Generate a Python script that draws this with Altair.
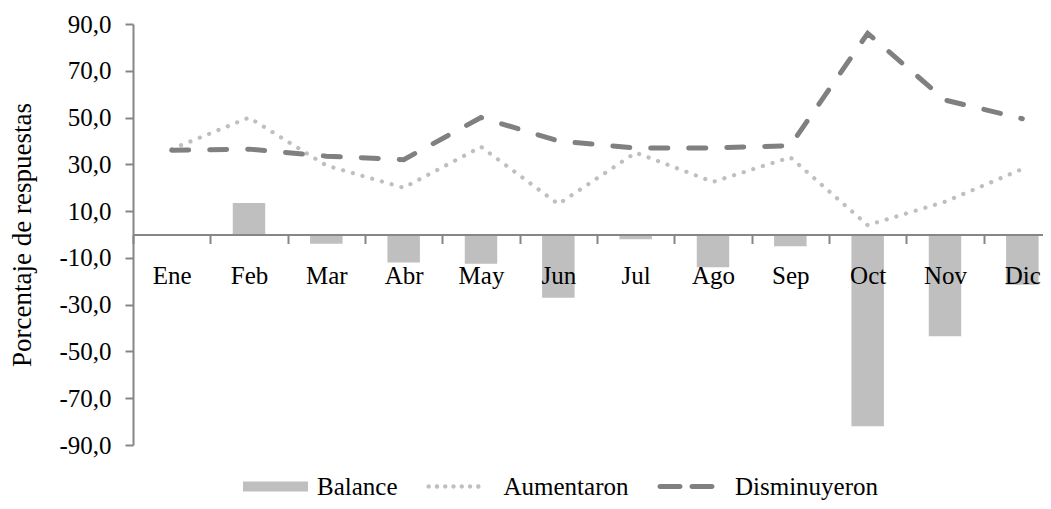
import altair as alt
import pandas as pd

meses = ["Ene", "Feb", "Mar", "Abr", "May", "Jun", "Jul", "Ago", "Sep", "Oct", "Nov", "Dic"]
balance = [0.0, 13.5, -4.0, -12.0, -12.5, -27.0, -2.0, -14.0, -5.0, -82.0, -43.5, -21.5]
aumentaron = [36.5, 50.0, 29.5, 20.0, 37.5, 13.0, 35.0, 22.5, 33.0, 4.0, 14.0, 28.0]
disminuyeron = [36.0, 36.5, 33.5, 32.0, 50.0, 40.0, 37.0, 37.0, 38.0, 86.0, 57.5, 49.5]
series = ["Balance", "Aumentaron", "Disminuyeron"]
y_ticks = [-90, -70, -50, -30, -10, 10, 30, 50, 70, 90]

rows = []
for nombre, valores in zip(series, [balance, aumentaron, disminuyeron]):
    for m, v in zip(meses, valores):
        rows.append({"mes": m, "serie": nombre, "valor": v})
df = pd.DataFrame(rows)

FONT = "Liberation Serif"
AXIS_GRAY = "#868686"
BAR_GRAY = "#BFBFBF"
DARK_GRAY = "#808080"
W, H = 910, 421
X_RANGE = 928  # the category axis runs slightly past the right edge, as in the original

x_enc = alt.X(
    "mes:N", sort=meses,
    scale=alt.Scale(paddingInner=0, paddingOuter=0, range=[0, X_RANGE]),
    axis=alt.Axis(
        title=None, offset=-H / 2, labelAngle=0, labelFont=FONT, labelFontSize=25,
        labelColor="black", labelPadding=20, tickBand="extent", tickSize=9, tickWidth=2,
        tickColor=AXIS_GRAY, domainColor=AXIS_GRAY, domainWidth=2, zindex=1, grid=False,
    ),
)
y_enc = alt.Y(
    "valor:Q",
    scale=alt.Scale(domain=[-90, 90], nice=False, zero=False),
    axis=alt.Axis(
        values=y_ticks, title="Porcentaje de respuestas", titleFont=FONT, titleFontSize=27,
        titleFontWeight="normal", titleColor="black", titlePadding=22,
        labelExpr="(datum.value < 0 ? '-' : '') + replace(format(abs(datum.value), '.1f'), '.', ',')",
        labelFont=FONT, labelFontSize=25, labelColor="black", labelPadding=14,
        tickSize=8, tickWidth=2, tickColor=AXIS_GRAY, domainColor=AXIS_GRAY, domainWidth=2,
        grid=False,
    ),
)

base = alt.Chart(df)

bars = base.transform_filter("datum.serie == 'Balance'").mark_bar(
    color=BAR_GRAY, width=alt.RelativeBandSize(0.42)
).encode(x=x_enc, y=y_enc)

line_up = base.transform_filter("datum.serie == 'Aumentaron'").mark_line(
    color=BAR_GRAY, strokeWidth=4.2, strokeDash=[0.1, 10], strokeCap="round"
).encode(x=x_enc, y=y_enc)

line_down = base.transform_filter("datum.serie == 'Disminuyeron'").mark_line(
    color=DARK_GRAY, strokeWidth=5, strokeDash=[17, 21], strokeCap="round"
).encode(x=x_enc, y=y_enc)

# legend symbol shapes (unit box -1..1 -> 65 px)
U = 32.5


def f(v):
    return f"{v / U:.4f}"


def dot(cx, r):
    return f"M{f(cx - r)},0A{f(r)},{f(r)} 0 1 0 {f(cx + r)},0A{f(r)},{f(r)} 0 1 0 {f(cx - r)},0Z"


def pill(x1, x2, h):
    return (f"M{f(x1 + h)},{f(-h)}H{f(x2 - h)}A{f(h)},{f(h)} 0 0 1 {f(x2 - h)},{f(h)}"
            f"H{f(x1 + h)}A{f(h)},{f(h)} 0 0 1 {f(x1 + h)},{f(-h)}Z")


rect_path = f"M-1,{f(-5)}H1V{f(5)}H-1Z"
dots_path = "".join(dot(-33.3 + 8.27 * k, 2.2) for k in range(7))
dash_path = pill(-36, -11, 2.5) + pill(-4, 21, 2.5)

leg = alt.Legend(
    title=None, orient="none", legendX=110, legendY=430, direction="horizontal",
    columns=3, gridAlign="none", columnPadding=28.5, labelOffset=9, symbolSize=4225,
    symbolStrokeWidth=0, labelFont=FONT, labelFontSize=25, labelColor="black",
    padding=0, symbolOffset=0, rowPadding=0, labelLimit=400,
)

legend_layer = base.transform_filter("datum.valor > 1000").mark_point(
    filled=True, opacity=1, size=4225
).encode(
    color=alt.Color("serie:N", scale=alt.Scale(domain=series, range=[BAR_GRAY, BAR_GRAY, DARK_GRAY]), legend=leg),
    shape=alt.Shape("serie:N", scale=alt.Scale(domain=series, range=[rect_path, dots_path, dash_path]), legend=leg),
)

chart = alt.layer(bars, line_up, line_down, legend_layer).properties(
    width=W, height=H,
    padding={"left": 125, "top": 16, "right": 0, "bottom": 56},
    autosize=alt.AutoSizeParams(type="none"),
).configure_view(stroke=None)

chart.save("out.html", embed_options={"renderer": "svg", "actions": False})
